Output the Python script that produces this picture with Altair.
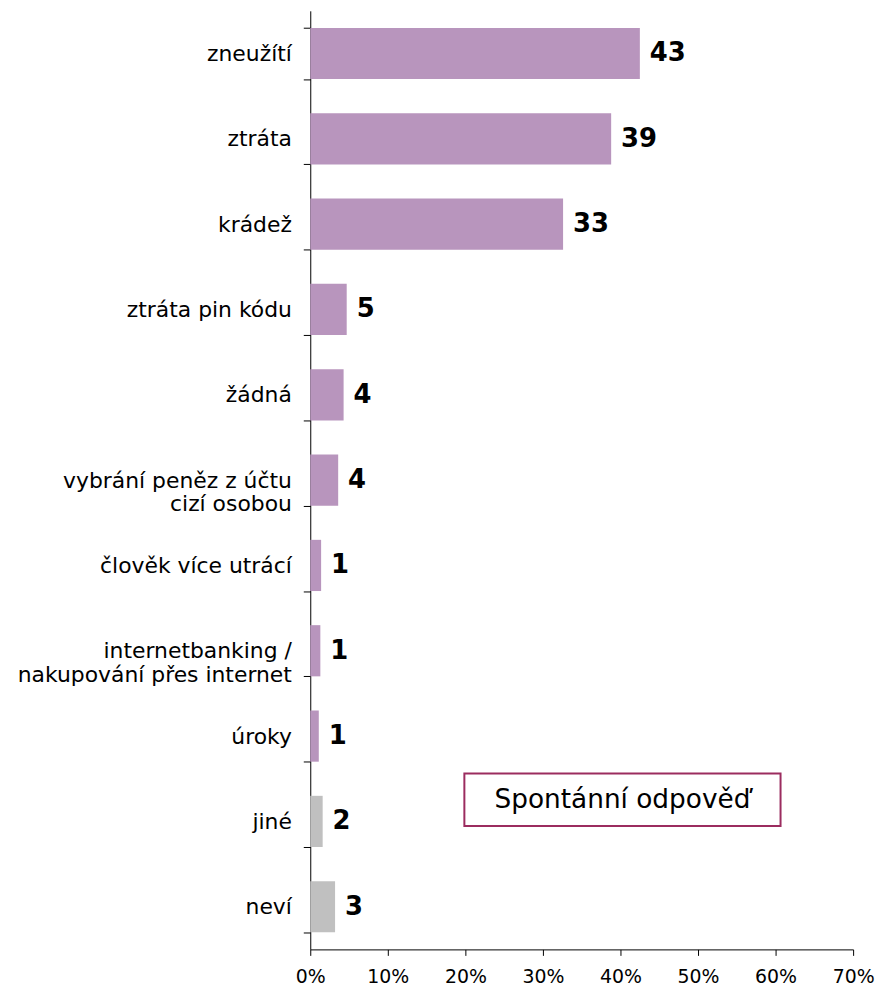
import altair as alt
import pandas as pd

categories = [
    "zneužítí",
    "ztráta",
    "krádež",
    "ztráta pin kódu",
    "žádná",
    "vybrání peněz z účtu|cizí osobou",
    "člověk více utrácí",
    "internetbanking /|nakupování přes internet",
    "úroky",
    "jiné",
    "neví",
]
values = [42.5, 38.8, 32.6, 4.7, 4.3, 3.6, 1.4, 1.3, 1.1, 1.6, 3.2]
value_labels = ["43", "39", "33", "5", "4", "4", "1", "1", "1", "2", "3"]
groups = ["main"] * 9 + ["other"] * 2
x_ticks = [0, 10, 20, 30, 40, 50, 60, 70]
note_text = ["Spontánní odpověď"]

df = pd.DataFrame({
    "cat": categories,
    "val": values,
    "lab": value_labels,
    "grp": groups,
})

FONT = "DejaVu Sans"

y_enc = alt.Y(
    "cat:N",
    sort=categories,
    scale=alt.Scale(paddingInner=0.4, paddingOuter=0.2),
    axis=alt.Axis(
        title=None,
        labelExpr="split(datum.label, '|')",
        labelFont=FONT,
        labelFontSize=22,
        labelColor="#000000",
        labelLineHeight=24,
        labelPadding=12,
        labelLimit=400,
        tickBand="extent",
        tickSize=7,
        tickColor="#000000",
        domainColor="#000000",
        ticks=True,
        grid=False,
    ),
)

x_enc = alt.X(
    "val:Q",
    scale=alt.Scale(domain=[0, 70], nice=False),
    axis=alt.Axis(
        title=None,
        values=x_ticks,
        labelExpr="datum.value + '%'",
        labelFont=FONT,
        labelFontSize=19,
        labelColor="#000000",
        labelPadding=12,
        labelFlush=False,
        labelOverlap=False,
        tickSize=6,
        tickColor="#000000",
        domainColor="#000000",
        grid=False,
    ),
)

base = alt.Chart(df)

bars = base.mark_bar().encode(
    x=x_enc,
    y=y_enc,
    color=alt.Color(
        "grp:N",
        scale=alt.Scale(domain=["main", "other"], range=["#B895BD", "#C0C0C0"]),
        legend=None,
    ),
)

texts = base.mark_text(
    align="left", baseline="middle", dx=10, font=FONT, fontSize=26, fontWeight="bold", color="#000000"
).encode(
    x="val:Q",
    y=alt.Y("cat:N", sort=categories),
    text="lab:N",
)

note_df = pd.DataFrame({"t": note_text})
note_box = alt.Chart(note_df).mark_rect(
    fill="#FFFFFF", stroke="#9B2C5F", strokeWidth=2
).encode(
    x=alt.value(155), x2=alt.value(473), y=alt.value(767), y2=alt.value(820)
)
note_label = alt.Chart(note_df).mark_text(
    align="center", baseline="middle", font=FONT, fontSize=26.5, color="#000000"
).encode(
    x=alt.value(314), y=alt.value(794), text="t:N"
)

chart = (
    alt.layer(bars, texts, note_box, note_label)
    .properties(
        width=546,
        height=944,
        autosize=alt.AutoSizeParams(type="none"),
        padding={"left": 304, "top": 0, "right": 22, "bottom": 38},
        view=alt.ViewBackground(stroke="transparent", strokeWidth=0, strokeOpacity=0),
    )
    .configure_view(strokeWidth=0, stroke="transparent", strokeOpacity=0)
    .configure(background="#FFFFFF")
)

chart.save("out.html", embed_options={"renderer": "svg", "actions": False})
